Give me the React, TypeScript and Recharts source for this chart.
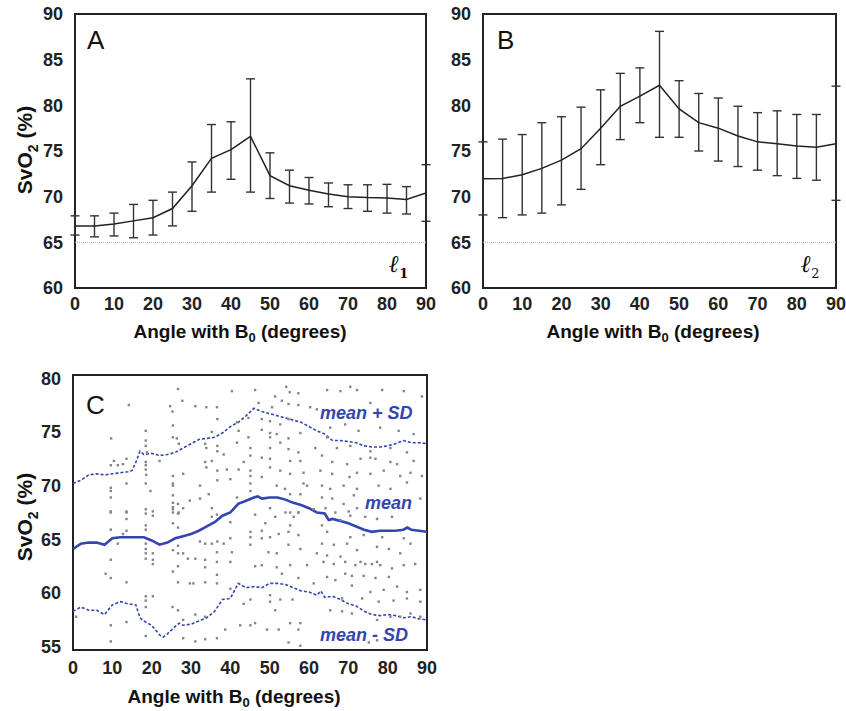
import React from "react";
import {
  ComposedChart,
  ErrorBar,
  Line,
  ReferenceArea,
  ReferenceLine,
  Scatter,
  XAxis,
  YAxis,
} from "recharts";

const FONT = "'Liberation Sans', Arial, Helvetica, sans-serif";
const INK = "#222";
const BLUE = "#3346b0";

// Panels A / B: mean ± SD every 5 degrees
const anglesAB = [0, 5, 10, 15, 20, 25, 30, 35, 40, 45, 50, 55, 60, 65, 70, 75, 80, 85, 90];

const meanA = [66.8, 66.8, 67.0, 67.35, 67.7, 68.7, 71.2, 74.2, 75.15, 76.6, 72.3, 71.2, 70.7, 70.3, 70.0, 69.9, 69.85, 69.7, 70.4];
const upperA = [67.9, 67.9, 68.2, 69.15, 69.6, 70.5, 73.8, 77.9, 78.2, 82.9, 74.8, 72.9, 72.1, 71.5, 71.3, 71.3, 71.35, 71.1, 73.5];
const lowerA = [65.8, 65.6, 65.7, 65.5, 65.8, 66.8, 68.4, 70.5, 71.9, 70.5, 69.8, 69.3, 69.2, 68.9, 68.7, 68.4, 68.2, 68.1, 67.3];

const meanB = [71.95, 72.0, 72.4, 73.1, 74.0, 75.25, 77.5, 79.9, 81.0, 82.2, 79.6, 78.1, 77.5, 76.65, 76.0, 75.8, 75.55, 75.4, 75.8];
const upperB = [76.0, 76.3, 76.8, 78.1, 78.75, 79.8, 81.7, 83.5, 84.1, 88.1, 82.7, 81.3, 80.8, 79.9, 79.2, 79.4, 79.0, 79.0, 82.1];
const lowerB = [68.0, 67.7, 68.0, 68.2, 69.1, 70.8, 73.5, 76.25, 78.1, 76.5, 76.5, 75.0, 73.9, 73.3, 72.9, 72.3, 72.0, 71.8, 69.6];

const xTicks = [0, 10, 20, 30, 40, 50, 60, 70, 80, 90];
const yTicksAB = [60, 65, 70, 75, 80, 85, 90];
const yTicksC = [55, 60, 65, 70, 75, 80];

// Panel C: running mean and mean ± SD
const cMeanAngles = [0, 2, 4, 6, 8, 10, 12, 14, 16, 18, 20, 22, 24, 26, 28, 30, 32, 34, 36, 38, 40, 42, 44, 46, 47, 48, 50, 52, 54, 56, 58, 60, 62, 64, 65, 66, 68, 70, 72, 74, 76, 78, 80, 82, 84, 85, 86, 88, 90];
const cMean = [64.1, 64.6, 64.7, 64.7, 64.5, 65.1, 65.2, 65.2, 65.2, 65.2, 64.9, 64.5, 64.7, 65.1, 65.3, 65.5, 65.8, 66.2, 66.6, 67.2, 67.5, 68.3, 68.6, 68.9, 69.0, 68.8, 68.9, 68.9, 68.7, 68.4, 68.2, 67.9, 67.5, 67.4, 66.8, 66.9, 66.7, 66.5, 66.2, 65.9, 65.7, 65.8, 65.8, 65.8, 65.9, 66.1, 65.9, 65.8, 65.7];

const cUpperAngles = [0, 2, 4, 6, 8, 10, 12, 14, 15, 16, 17, 18, 20, 22, 24, 26, 28, 30, 32, 34, 36, 38, 40, 42, 44, 46, 48, 50, 52, 54, 56, 58, 60, 62, 64, 66, 68, 70, 72, 74, 76, 78, 80, 82, 84, 86, 88, 90];
const cUpper = [70.2, 70.5, 71.0, 71.1, 71.0, 71.1, 71.2, 71.3, 71.4, 72.2, 73.2, 72.9, 73.0, 72.8, 72.9, 73.1, 73.5, 73.9, 74.3, 74.4, 74.5, 74.9, 75.5, 75.9, 76.5, 77.2, 76.9, 76.7, 76.5, 76.3, 76.1, 75.9, 75.5, 75.1, 74.8, 74.2, 74.2, 74.1, 74.0, 73.7, 73.6, 73.6, 73.7, 73.9, 74.2, 74.0, 74.0, 73.9];

const cLowerAngles = [0, 2, 4, 6, 8, 10, 12, 14, 16, 17, 18, 20, 22, 23, 24, 26, 27, 28, 30, 32, 34, 36, 38, 40, 42, 44, 46, 48, 50, 52, 54, 56, 58, 60, 62, 63, 64, 66, 68, 70, 72, 74, 76, 78, 80, 82, 84, 86, 88, 90];
const cLower = [58.3, 58.7, 58.4, 58.4, 58.0, 58.9, 59.2, 59.0, 58.9, 57.7, 57.4, 57.0, 56.1, 55.9, 56.2, 56.9, 57.2, 57.0, 57.1, 57.4, 57.7, 58.3, 59.4, 59.5, 60.9, 60.5, 60.6, 60.5, 60.9, 60.9, 60.8, 60.5, 60.2, 60.1, 59.8, 60.2, 59.6, 59.7, 59.4, 59.0, 58.8, 58.3, 58.0, 57.9, 58.0, 57.9, 57.7, 57.8, 57.6, 57.5];

// individual vessel measurements [angle, SvO2]
const scatterDots: [number, number][] = [
  [26.7, 79.0], [27.8, 77.9], [14.2, 77.5], [24.7, 77.4], [25.3, 76.9], [18.5, 75.1], [25.4, 75.6], [9.7, 74.4], [25.4, 74.5], [26.4, 74.4],
  [18.5, 74.2], [18.5, 73.7], [18.8, 73.1], [26.9, 73.9], [22.0, 72.3], [10.4, 72.3], [9.6, 71.9], [11.4, 71.9], [12.7, 72.0], [13.6, 72.5],
  [18.5, 72.2], [18.5, 71.9], [18.5, 71.5], [18.6, 71.0], [25.4, 70.9], [28.0, 71.1], [25.4, 70.2], [13.6, 70.2], [18.5, 70.2], [19.7, 69.5],
  [9.6, 69.8], [9.6, 69.5], [25.4, 70.0], [25.4, 69.1], [9.6, 68.9], [25.4, 68.4], [26.7, 68.3], [25.4, 68.0], [28.0, 67.9], [9.6, 67.6],
  [13.6, 67.6], [18.5, 67.8], [20.3, 67.6], [25.4, 67.8], [26.9, 67.5], [29.7, 68.6],
  [40.4, 78.8], [46.3, 78.9], [54.2, 79.2], [55.1, 78.7], [57.3, 78.6], [31.1, 77.4], [33.9, 77.3], [36.6, 77.3], [47.2, 77.7], [51.4, 78.3],
  [53.1, 77.9], [54.8, 77.6], [57.3, 77.5], [50.6, 77.3], [36.7, 76.2], [41.7, 75.9], [44.6, 76.3], [48.0, 76.2], [50.1, 76.0], [52.7, 75.7],
  [54.8, 76.2], [35.3, 75.0], [42.1, 75.1], [44.6, 74.5], [48.0, 75.2], [50.1, 74.9], [50.1, 74.5], [51.8, 74.8], [54.8, 74.4], [57.8, 74.9],
  [33.6, 73.9], [33.9, 73.5], [36.7, 73.7], [36.7, 73.2], [41.7, 74.0], [45.1, 73.5], [50.1, 73.5], [52.7, 74.0], [54.8, 73.4], [57.3, 73.1],
  [38.3, 72.9], [45.1, 72.8], [48.0, 72.6], [50.1, 72.5], [55.2, 72.3], [57.8, 72.3], [33.6, 72.2], [35.3, 72.3], [43.4, 72.2], [33.9, 71.7],
  [36.7, 71.4], [39.1, 71.5], [42.1, 71.5], [45.1, 71.4], [48.0, 70.8], [50.1, 71.7], [52.7, 71.4], [55.2, 71.1], [58.6, 71.2], [36.7, 70.5],
  [40.0, 70.6], [45.1, 70.9], [45.1, 70.2], [51.8, 70.0], [58.6, 70.2], [32.3, 70.0], [34.5, 69.2], [32.3, 68.8], [53.9, 69.7], [55.2, 69.2],
  [57.8, 69.2], [59.5, 70.0], [41.7, 68.9], [45.1, 69.5], [35.3, 67.9], [50.1, 67.9], [55.2, 67.5], [57.3, 67.5],
  [64.6, 78.9], [68.0, 78.8], [70.5, 79.2], [72.2, 78.9], [75.6, 77.7], [78.6, 78.9], [84.1, 78.8], [60.3, 77.3], [62.0, 77.1], [88.7, 78.3],
  [65.4, 75.4], [69.2, 75.7], [72.6, 75.1], [78.1, 75.4], [82.8, 75.1], [86.6, 74.8], [64.6, 74.5], [61.6, 73.5], [67.1, 73.5], [70.5, 73.7],
  [75.6, 73.2], [80.7, 73.5], [84.9, 73.1], [63.3, 72.8], [65.9, 72.2], [69.7, 72.0], [73.1, 72.5], [75.6, 72.6], [76.9, 72.5], [80.7, 72.2],
  [82.4, 72.0], [86.6, 72.3], [62.9, 71.4], [65.9, 71.1], [70.3, 70.8], [72.2, 71.2], [75.6, 71.1], [79.0, 71.4], [83.2, 70.9], [85.8, 71.2],
  [88.7, 70.9], [63.3, 70.0], [65.4, 69.7], [68.8, 70.0], [72.2, 69.7], [77.7, 70.0], [80.7, 69.7], [84.9, 70.3], [63.3, 68.9], [65.9, 68.8],
  [68.8, 68.3], [71.4, 69.1], [72.2, 67.9], [88.3, 68.8], [61.2, 67.8], [64.2, 67.9], [66.7, 67.5], [70.1, 67.6],
  [9.6, 67.5], [13.6, 67.5], [18.5, 67.4], [20.3, 67.2], [13.6, 66.9], [18.5, 66.3], [18.5, 65.9], [25.4, 67.5], [26.7, 67.4], [25.4, 66.5],
  [26.7, 66.1], [9.6, 65.9], [12.7, 65.5], [13.6, 65.8], [11.4, 64.6], [18.5, 64.6], [18.5, 64.1], [18.5, 63.7], [20.3, 63.7], [18.5, 63.2],
  [20.3, 63.1], [20.3, 62.7], [25.4, 64.0], [26.7, 64.4], [28.0, 63.7], [26.7, 63.7], [29.2, 63.2], [9.6, 63.1], [26.7, 62.5], [8.3, 61.8],
  [9.6, 61.4], [13.6, 61.0], [25.4, 62.0], [26.7, 61.0], [29.7, 60.9], [18.5, 59.7], [20.3, 59.7], [18.5, 59.3], [18.5, 58.7], [25.3, 58.7],
  [26.7, 58.4], [0.8, 57.8], [9.6, 57.0], [13.6, 57.3], [28.0, 57.5], [18.5, 56.0], [28.0, 55.8], [9.6, 55.5],
  [35.3, 67.1], [40.0, 66.6], [36.6, 67.3], [46.3, 67.3], [51.4, 67.1], [54.0, 67.5], [56.1, 67.1], [57.3, 67.5], [48.9, 66.5], [55.2, 66.3],
  [45.1, 65.7], [45.1, 65.2], [48.0, 65.8], [50.1, 65.2], [52.3, 65.5], [54.8, 65.7], [57.3, 65.4], [32.3, 64.8], [33.6, 64.6], [35.3, 64.6],
  [36.7, 64.8], [38.3, 64.6], [40.0, 65.1], [45.1, 64.5], [48.0, 65.1], [54.8, 64.5], [57.8, 64.1], [36.6, 63.8], [40.4, 63.8], [49.7, 63.8],
  [51.8, 63.7], [31.1, 63.2], [33.6, 63.1], [36.6, 62.9], [40.0, 62.9], [33.6, 62.4], [46.3, 62.5], [48.0, 62.6], [51.8, 62.4], [55.2, 62.6],
  [59.5, 62.6], [36.6, 61.7], [53.1, 61.8], [57.3, 61.4], [30.6, 60.9], [33.6, 61.0], [36.6, 60.9], [40.0, 60.4], [45.1, 59.4], [50.1, 59.8],
  [50.1, 59.2], [52.7, 59.4], [55.8, 59.4], [43.4, 59.0], [51.4, 58.4], [31.1, 58.0], [33.6, 57.8], [55.2, 57.2], [57.8, 57.2], [38.7, 56.6],
  [42.5, 57.0], [45.1, 57.0], [46.3, 57.2], [49.3, 56.6], [52.3, 56.6], [57.3, 56.6], [33.6, 55.7], [36.6, 55.8], [31.1, 55.5], [54.8, 55.4],
  [57.8, 55.1],
  [63.3, 66.3], [64.6, 65.7], [68.0, 66.8], [70.5, 67.2], [74.3, 67.1], [77.3, 66.9], [81.1, 67.1], [70.5, 65.2], [73.9, 65.4], [78.6, 65.2],
  [84.1, 65.1], [85.8, 64.6], [63.3, 64.6], [66.3, 64.5], [69.7, 64.6], [72.2, 64.0], [77.3, 64.3], [80.3, 64.1], [83.2, 63.7], [62.0, 63.7],
  [64.6, 63.5], [68.0, 63.4], [63.7, 62.9], [66.3, 62.7], [69.2, 62.9], [71.8, 62.6], [73.1, 62.9], [74.3, 62.7], [76.0, 62.7], [77.3, 62.9],
  [78.1, 62.6], [81.1, 62.3], [84.1, 62.6], [87.0, 62.7], [69.2, 61.8], [70.9, 61.6], [73.9, 61.6], [76.9, 61.4], [80.3, 61.5], [64.6, 61.5],
  [66.7, 61.2], [61.2, 60.9], [70.9, 60.7], [75.6, 60.1], [79.0, 60.3], [82.4, 60.6], [84.9, 60.1], [88.3, 60.3], [68.4, 59.5], [73.5, 59.5],
  [77.7, 59.2], [81.5, 59.3], [84.9, 59.5], [88.3, 59.2], [65.4, 58.4], [68.4, 58.3], [70.9, 58.1], [77.3, 57.5], [80.7, 57.8], [83.2, 57.8],
  [85.8, 58.1], [88.3, 57.8], [75.2, 55.4], [77.3, 55.6],
];

type ErrRow = { x: number; mean: number; err: [number, number] };

function buildErrRows(mean: number[], upper: number[], lower: number[]): ErrRow[] {
  return anglesAB.map((a, i) => ({
    x: a,
    mean: mean[i],
    err: [mean[i] - lower[i], upper[i] - mean[i]],
  }));
}

function toRows(xs: number[], ys: number[]) {
  return xs.map((x, i) => ({ x, y: ys[i] }));
}

const tickStyle = { fontSize: 18, fontWeight: 700, fill: INK, fontFamily: FONT };

const absText = (extra: React.CSSProperties): React.CSSProperties => ({
  position: "absolute",
  fontFamily: FONT,
  color: "#111",
  whiteSpace: "nowrap",
  lineHeight: 1,
  ...extra,
});

function XTitle({ cx, cy }: { cx: number; cy: number }) {
  return (
    <div style={absText({ left: cx, top: cy, transform: "translate(-50%, -50%)", fontSize: 19, fontWeight: 700 })}>
      Angle with B<sub style={{ fontSize: 13 }}>0</sub> (degrees)
    </div>
  );
}

function YTitle({ cx, cy }: { cx: number; cy: number }) {
  return (
    <div
      style={absText({
        left: cx,
        top: cy,
        transform: "translate(-50%, -50%) rotate(-90deg)",
        fontSize: 21,
        fontWeight: 700,
      })}
    >
      SvO<sub style={{ fontSize: 14 }}>2</sub> (%)
    </div>
  );
}

function ErrorPanel({
  rows,
  left,
  width,
  marginLeft,
  yAxisWidth,
  marginRight,
}: {
  rows: ErrRow[];
  left: number;
  width: number;
  marginLeft: number;
  yAxisWidth: number;
  marginRight: number;
}) {
  return (
    <div style={{ position: "absolute", left, top: 0 }}>
      <ComposedChart
        width={width}
        height={350}
        data={rows}
        margin={{ top: 14, right: marginRight, left: marginLeft, bottom: 32 }}
        style={{ fontFamily: FONT }}
      >
        <XAxis
          type="number"
          dataKey="x"
          domain={[0, 90]}
          ticks={xTicks}
          interval={0}
          axisLine={false}
          tickLine={false}
          tickSize={0}
          tickMargin={9}
          height={30}
          tick={tickStyle}
          allowDataOverflow
        />
        <YAxis
          type="number"
          domain={[60, 90]}
          ticks={yTicksAB}
          interval={0}
          axisLine={false}
          tickLine={false}
          tickSize={0}
          tickMargin={12}
          width={yAxisWidth}
          tick={tickStyle}
          allowDataOverflow
        />
        <ReferenceLine y={65} stroke="#b5b5b5" strokeWidth={1} strokeDasharray="1 1" />
        <Line
          dataKey="mean"
          type="linear"
          stroke={INK}
          strokeWidth={1.5}
          dot={false}
          isAnimationActive={false}
        >
          <ErrorBar dataKey="err" direction="y" width={4.5} stroke="#333" strokeWidth={1.4} isAnimationActive={false} />
        </Line>
        <ReferenceArea x1={0} x2={90} y1={60} y2={90} fill="none" stroke={INK} strokeWidth={2} />
      </ComposedChart>
    </div>
  );
}

function Dot2(props: any) {
  const { cx, cy } = props;
  if (cx == null || cy == null) return null;
  return <rect x={cx - 1.2} y={cy - 1.2} width={2.4} height={2.4} fill="#858585" />;
}

function ScatterPanel() {
  const dots = scatterDots.map(([x, y]) => ({ x, y }));
  return (
    <div style={{ position: "absolute", left: 0, top: 355 }}>
      <ComposedChart
        width={440}
        height={356}
        margin={{ top: 20, right: 13, left: 20, bottom: 31 }}
        style={{ fontFamily: FONT }}
      >
        <XAxis
          type="number"
          dataKey="x"
          domain={[0, 90]}
          ticks={xTicks}
          interval={0}
          axisLine={false}
          tickLine={false}
          tickSize={0}
          tickMargin={11}
          height={30}
          tick={tickStyle}
          allowDataOverflow
        />
        <YAxis
          type="number"
          domain={[54.7, 80.3]}
          ticks={yTicksC}
          interval={0}
          axisLine={false}
          tickLine={false}
          tickSize={0}
          tickMargin={12}
          width={53}
          tick={tickStyle}
          allowDataOverflow
        />
        <Scatter data={dots} dataKey="y" shape={<Dot2 />} isAnimationActive={false} />
        <Line
          data={toRows(cUpperAngles, cUpper)}
          dataKey="y"
          type="linear"
          stroke={BLUE}
          strokeWidth={1.6}
          strokeDasharray="3 2"
          dot={false}
          isAnimationActive={false}
        />
        <Line
          data={toRows(cLowerAngles, cLower)}
          dataKey="y"
          type="linear"
          stroke={BLUE}
          strokeWidth={1.6}
          strokeDasharray="3 2"
          dot={false}
          isAnimationActive={false}
        />
        <Line
          data={toRows(cMeanAngles, cMean)}
          dataKey="y"
          type="linear"
          stroke={BLUE}
          strokeWidth={2.6}
          dot={false}
          isAnimationActive={false}
        />
        <ReferenceArea x1={0} x2={90} y1={54.7} y2={80.3} fill="none" stroke={INK} strokeWidth={2} />
      </ComposedChart>
    </div>
  );
}

export default function App() {
  const rowsA = buildErrRows(meanA, upperA, lowerA);
  const rowsB = buildErrRows(meanB, upperB, lowerB);
  const noteStyle = { color: BLUE, fontSize: 18, fontWeight: 700, fontStyle: "italic" as const };
  return (
    <div style={{ position: "absolute", left: 0, top: 0, width: 846, height: 711, background: "#fff", overflow: "hidden" }}>
      <ErrorPanel rows={rowsA} left={0} width={440} marginLeft={20} yAxisWidth={55} marginRight={14} />
      <ErrorPanel rows={rowsB} left={430} width={416} marginLeft={0} yAxisWidth={53} marginRight={10} />
      <ScatterPanel />

      <YTitle cx={27} cy={150} />
      <YTitle cx={27} cy={517} />
      <XTitle cx={240} cy={333} />
      <XTitle cx={653} cy={333} />
      <XTitle cx={234} cy={698} />

      <div style={absText({ left: 87, top: 27, fontSize: 26 })}>A</div>
      <div style={absText({ left: 497, top: 27, fontSize: 26 })}>B</div>
      <div style={absText({ left: 86, top: 392, fontSize: 26 })}>C</div>

      <div style={absText({ left: 389, top: 252, fontSize: 24, fontFamily: "'DejaVu Serif', serif", fontWeight: 700, fontStyle: "italic" })}>
        ℓ<sub style={{ fontSize: 13, fontStyle: "normal" }}>1</sub>
      </div>
      <div style={absText({ left: 801, top: 252, fontSize: 24, fontFamily: "'DejaVu Serif', serif", fontWeight: 700, fontStyle: "italic" })}>
        ℓ<sub style={{ fontSize: 13, fontStyle: "normal", fontWeight: 400 }}>2</sub>
      </div>

      <div style={absText({ left: 320, top: 404, ...noteStyle })}>mean + SD</div>
      <div style={absText({ left: 365, top: 494, ...noteStyle })}>mean</div>
      <div style={absText({ left: 320, top: 626, ...noteStyle })}>mean - SD</div>
    </div>
  );
}
